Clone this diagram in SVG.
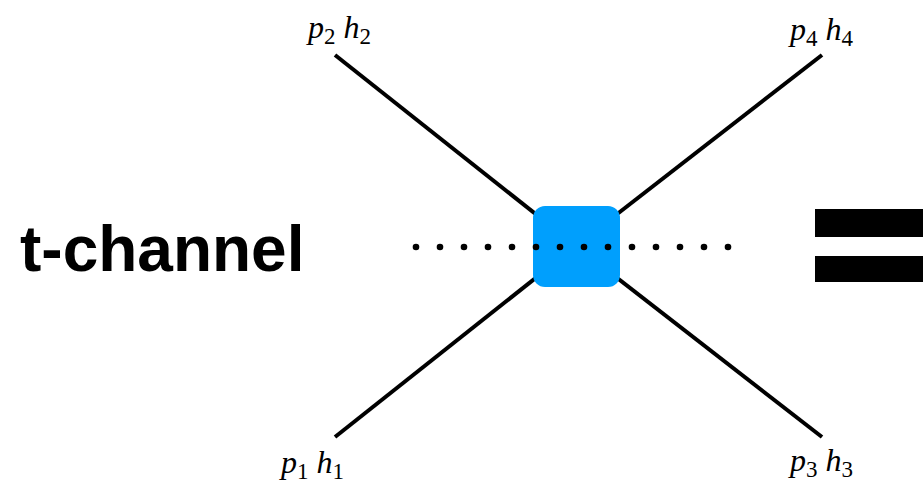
<svg xmlns="http://www.w3.org/2000/svg" width="923" height="491" viewBox="0 0 923 491">
<style>
.leg{stroke:#000;stroke-width:4;fill:none}
.lbl{font-family:"Liberation Serif","Times New Roman",serif;font-style:italic;font-size:32px;fill:#000}
.sub{font-style:normal;font-size:23px}
.dot{fill:#000}
.title{font-family:"Liberation Sans",Arial,sans-serif;font-weight:bold;font-size:64px;fill:#000}
</style>
<rect width="923" height="491" fill="#fff"/>
<g id="title"><text class="title" x="20" y="271">t-channel</text></g>
<g id="connectors">
<line class="leg" x1="335" y1="55" x2="576" y2="246"/>
<line class="leg" x1="822" y1="55" x2="576" y2="246"/>
<line class="leg" x1="335" y1="437" x2="576" y2="246"/>
<line class="leg" x1="822" y1="437" x2="576" y2="246"/>
</g>
<g id="vertex"><rect x="533" y="206" width="87" height="81" rx="12" fill="#009ffd"/></g>
<g id="exchange">
<circle class="dot" cx="416" cy="247" r="3.3"/>
<circle class="dot" cx="440" cy="247" r="3.3"/>
<circle class="dot" cx="464" cy="247" r="3.3"/>
<circle class="dot" cx="488" cy="247" r="3.3"/>
<circle class="dot" cx="512" cy="247" r="3.3"/>
<circle class="dot" cx="536" cy="247" r="3.3"/>
<circle class="dot" cx="560" cy="247" r="3.3"/>
<circle class="dot" cx="584" cy="247" r="3.3"/>
<circle class="dot" cx="608" cy="247" r="3.3"/>
<circle class="dot" cx="632" cy="247" r="3.3"/>
<circle class="dot" cx="656" cy="247" r="3.3"/>
<circle class="dot" cx="680" cy="247" r="3.3"/>
<circle class="dot" cx="704" cy="247" r="3.3"/>
<circle class="dot" cx="728" cy="247" r="3.3"/>
</g>
<g id="equals">
<rect x="815" y="209" width="108" height="28" fill="#000"/>
<rect x="815" y="256" width="108" height="26" fill="#000"/>
</g>
<g id="label-p2"><text class="lbl" x="308" y="38">p<tspan class="sub" dy="6">2</tspan><tspan dy="-6"> h</tspan><tspan class="sub" dy="6">2</tspan></text></g>
<g id="label-p4"><text class="lbl" x="790" y="40">p<tspan class="sub" dy="6">4</tspan><tspan dy="-6"> h</tspan><tspan class="sub" dy="6">4</tspan></text></g>
<g id="label-p1"><text class="lbl" x="281" y="473">p<tspan class="sub" dy="6">1</tspan><tspan dy="-6"> h</tspan><tspan class="sub" dy="6">1</tspan></text></g>
<g id="label-p3"><text class="lbl" x="790" y="471">p<tspan class="sub" dy="6">3</tspan><tspan dy="-6"> h</tspan><tspan class="sub" dy="6">3</tspan></text></g>
</svg>
